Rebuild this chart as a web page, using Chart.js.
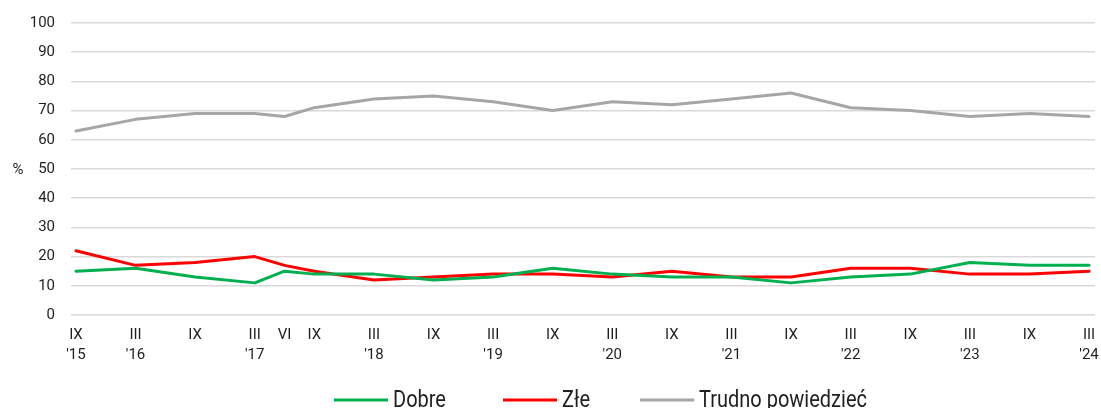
<!DOCTYPE html>
<html lang="pl">
<head>
<meta charset="utf-8">
<title>Ocena sytuacji</title>
<script src="https://cdn.jsdelivr.net/npm/chart.js@4.4.1/dist/chart.umd.min.js"></script>
<style>
  html, body { margin: 0; padding: 0; background: #ffffff; }
  #wrap { width: 1101px; height: 408px; position: relative; }
</style>
</head>
<body>
<div id="wrap"><canvas id="c" width="1101" height="408"></canvas></div>
<script>
// ---- data ----
// survey months, counted from September 2015
const surveyMonth = [0, 6, 12, 18, 21, 24, 30, 36, 42, 48, 54, 60, 66, 72, 78, 84, 90, 96, 102];
const tickLabels = [
  ['IX', "'15"], ['III', "'16"], ['IX'], ['III', "'17"], ['VI'], ['IX'],
  ['III', "'18"], ['IX'], ['III', "'19"], ['IX'], ['III', "'20"], ['IX'],
  ['III', "'21"], ['IX'], ['III', "'22"], ['IX'], ['III', "'23"], ['IX'], ['III', "'24"]
];
const seriesNames = ['Dobre', 'Złe', 'Trudno powiedzieć'];
const dobre  = [15, 16, 13, 11, 15, 14, 14, 12, 13, 16, 14, 13, 13, 11, 13, 14, 18, 17, 17];
const zle    = [22, 17, 18, 20, 17, 15, 12, 13, 14, 14, 13, 15, 13, 13, 16, 16, 14, 14, 15];
const trudno = [63, 67, 69, 69, 68, 71, 74, 75, 73, 70, 73, 72, 74, 76, 71, 70, 68, 69, 68];
const yTitle = '%';

// ---- styles ----
const colors = ['#00B050', '#FF0000', '#A6A6A6'];
const textColor = '#1f1f1f';
const gridColor = '#D9D9D9';
const legendStartX = [334, 503, 640];
const legendLineY = 400;
const legendBaseline = 407;

const toPoints = vals => vals.map((v, i) => ({ x: surveyMonth[i], y: v }));

const overlay = {
  id: 'overlay',
  afterDraw(chart) {
    const ctx = chart.ctx, a = chart.chartArea;
    ctx.save();
    ctx.fillStyle = textColor;
    ctx.font = '15px Roboto';
    ctx.textAlign = 'center';
    ctx.textBaseline = 'middle';
    ctx.fillText(yTitle, 18, (a.top + a.bottom) / 2 + 1);
    ctx.font = '20px Roboto';
    ctx.textAlign = 'left';
    ctx.textBaseline = 'alphabetic';
    chart.data.datasets.forEach((ds, i) => {
      const x = legendStartX[i];
      ctx.strokeStyle = ds.borderColor;
      ctx.lineWidth = 3;
      ctx.beginPath();
      ctx.moveTo(x, legendLineY);
      ctx.lineTo(x + 54, legendLineY);
      ctx.stroke();
      ctx.save();
      ctx.translate(x + 59, legendBaseline);
      ctx.scale(1, 1.2);
      ctx.fillText(ds.label, 0, 0);
      ctx.restore();
    });
    ctx.restore();
  }
};

new Chart(document.getElementById('c'), {
  type: 'line',
  data: {
    datasets: [
      { label: seriesNames[0], data: toPoints(dobre),  borderColor: colors[0], backgroundColor: colors[0] },
      { label: seriesNames[1], data: toPoints(zle),    borderColor: colors[1], backgroundColor: colors[1] },
      { label: seriesNames[2], data: toPoints(trudno), borderColor: colors[2], backgroundColor: colors[2] }
    ]
  },
  options: {
    responsive: false,
    animation: false,
    layout: { padding: { left: 30, right: 6, top: 23, bottom: 0 } },
    elements: {
      line: { borderWidth: 3, tension: 0, borderJoinStyle: 'round', borderCapStyle: 'round' },
      point: { radius: 0, hoverRadius: 0 }
    },
    plugins: { legend: { display: false }, tooltip: { enabled: false } },
    scales: {
      x: {
        type: 'linear',
        min: -0.5,
        max: 102.6,
        afterBuildTicks: axis => { axis.ticks = surveyMonth.map(v => ({ value: v })); },
        afterFit: axis => { axis.height = 93; axis.paddingLeft = 0; axis.paddingRight = 0; },
        ticks: {
          autoSkip: false,
          maxRotation: 0,
          minRotation: 0,
          padding: 10,
          color: textColor,
          font: { family: 'Roboto', size: 15, lineHeight: '20px' },
          callback: (value, index) => tickLabels[index]
        },
        grid: { display: false, drawTicks: false },
        border: { display: false }
      },
      y: {
        min: 0,
        max: 100,
        afterFit: axis => { axis.width = 41; axis.paddingTop = 0; axis.paddingBottom = 0; },
        ticks: {
          stepSize: 10,
          padding: 16,
          color: textColor,
          font: { family: 'Roboto', size: 15 }
        },
        grid: { color: gridColor, lineWidth: 1.5, drawTicks: false },
        border: { display: false }
      }
    }
  },
  plugins: [overlay]
});
</script>
</body>
</html>
